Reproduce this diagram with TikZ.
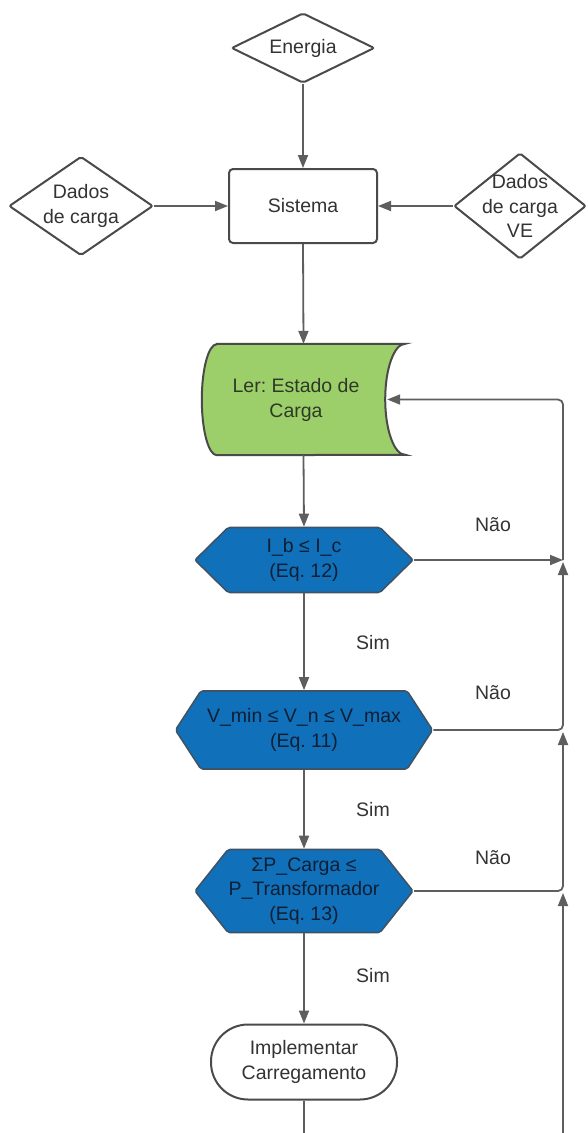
\documentclass[tikz,border=0pt]{standalone}
\usepackage{fontspec}
\setmainfont{Liberation Sans}
\usetikzlibrary{arrows.meta,shapes.geometric,shapes.symbols}
\definecolor{edge}{HTML}{5E5E5E}
\definecolor{outline}{HTML}{4A4A4A}
\definecolor{leaf}{HTML}{9CCF6A}
\definecolor{ink}{HTML}{333333}
\definecolor{deep}{HTML}{1170BA}
\definecolor{hexline}{HTML}{3F5366}
\definecolor{hexink}{HTML}{0F1F33}
\definecolor{leafink}{HTML}{2E3A26}
\frenchspacing

\begin{document}
\begin{tikzpicture}[x=1pt,y=-1pt,
  txt/.style={font=\fontsize{19.5}{24.5}\selectfont, text=ink, align=center, inner sep=0pt},
  dia/.style={diamond, draw=outline, line width=2pt, fill=white, inner sep=0pt, rounded corners=2pt},
  box/.style={rectangle, draw=outline, line width=2pt, fill=white, rounded corners=4pt, minimum width=148pt, minimum height=74pt, txt},
  hexa/.style={signal, signal to=west and east, draw=hexline, line width=1.6pt, fill=deep, rounded corners=2pt, txt, text=hexink},
  term/.style={rectangle, rounded corners=37pt, draw=outline, line width=2pt, fill=white, minimum width=186pt, minimum height=75pt, txt},
  flow/.style={draw=edge, line width=1.8pt, -{Triangle[length=13pt,width=10pt]}},
  link/.style={draw=edge, line width=1.8pt},
  tag/.style={txt},
]
\useasboundingbox (0,0) rectangle (587,1133);

% inputs
\node[dia, minimum width=143pt, minimum height=70pt] (energia) at (303,48) {};
\node[txt] (energia-t) at (energia) {Energia};
\node[dia, minimum width=144pt, minimum height=99pt] (dados) at (81,206) {};
\node[txt] (dados-t) at (dados) {Dados\\de carga};
\node[dia, minimum width=132pt, minimum height=106pt] (ve) at (520,206) {};
\node[txt] (ve-t) at (ve) {Dados\\de carga\\VE};

\node[box] (sistema) at (303,206) {Sistema};

% stored data shape
\node[minimum width=203pt, minimum height=111pt, inner sep=0pt] (read) at (303.5,399.5) {};
\draw[draw=outline, line width=2pt, fill=leaf]
  ([xshift=15pt]read.north west) -- (read.north east)
  arc[start angle=90, end angle=270, x radius=20pt, y radius=55.5pt]
  -- ([xshift=15pt]read.south west)
  arc[start angle=270, end angle=90, x radius=15pt, y radius=55.5pt] -- cycle;
\node[txt, text=leafink] (read-t) at (296,400) {Ler: Estado de\\Carga};

% checks
\node[hexa, minimum width=218pt, minimum height=65pt, signal pointer angle=89] (h1) at (304,560) {I\_b ≤ I\_c\\(Eq. 12)};
\node[hexa, minimum width=257pt, minimum height=78pt, signal pointer angle=114] (h2) at (304,730) {V\_min ≤ V\_n ≤ V\_max\\(Eq. 11)};
\node[hexa, minimum width=218pt, minimum height=83pt, signal pointer angle=103] (h3) at (304,891) {ΣP\_Carga ≤\\P\_Transformador\\(Eq. 13)};

\node[term] (impl) at (304,1062) {Implementar\\Carregamento};

% main flow
\draw[flow] (energia.south) -- (sistema.north);
\draw[flow] (dados.east) -- (sistema.west);
\draw[flow] (ve.west) -- (sistema.east);
\draw[flow] (sistema.south) -- (read.north);
\draw[flow] (read.south) -- (h1.north);
\draw[flow] (h1.south) -- (h2.north);
\draw[flow] (h2.south) -- (h3.north);
\draw[flow] (h3.south) -- (impl.north);
\coordinate (out) at (304,1133);
\draw[link] (impl.south) -- (out);

% return rail
\coordinate (rail) at (563,0);
\coordinate (railend) at (563,1133);
\draw[flow] (h1.east) -- (h1.east -| rail);
\draw[flow, rounded corners=5pt] (h1.east -| rail) |- ([xshift=-18pt]read.east);
\draw[flow, rounded corners=5pt] (h2.east) -| ([yshift=-2pt]h1.east -| rail);
\draw[flow, rounded corners=5pt] (h3.east) -| ([yshift=-2pt]h2.east -| rail);
\draw[flow] (railend) -- ([yshift=-2pt]h3.east -| rail);

% branch labels
\node[tag] (nao1) at (493,525) {Não};
\node[tag] (nao2) at (493,693) {Não};
\node[tag] (nao3) at (493,858) {Não};
\node[tag] (sim1) at (373,643) {Sim};
\node[tag] (sim2) at (373,810) {Sim};
\node[tag] (sim3) at (373,976) {Sim};
\end{tikzpicture}
\end{document}
